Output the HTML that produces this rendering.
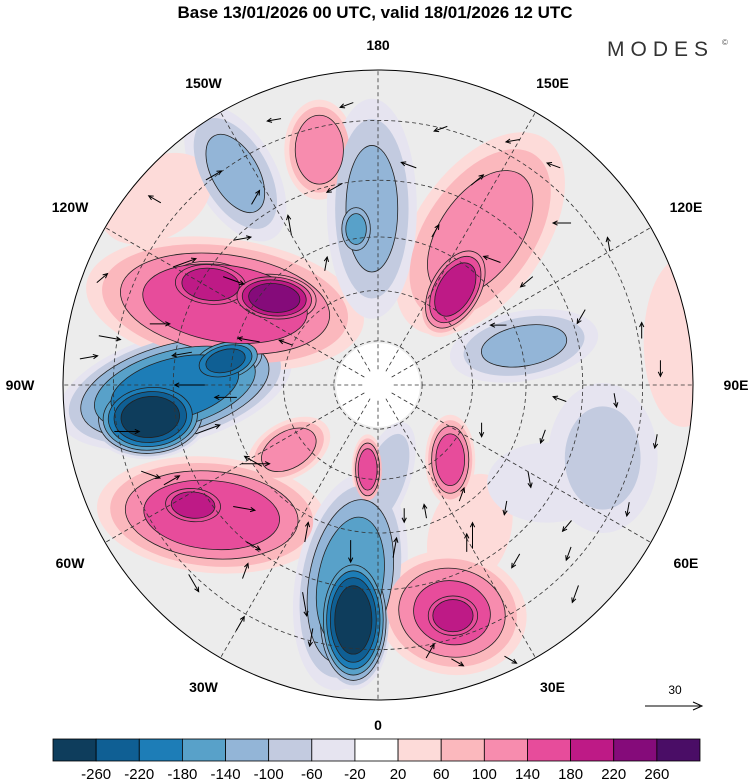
<!DOCTYPE html>
<html><head><meta charset="utf-8"><style>
body{margin:0;background:#fff;}
svg{display:block;font-family:"Liberation Sans",sans-serif;}
</style></head><body>
<svg id="s" width="750" height="783" viewBox="0 0 750 783">
<text x="375" y="18" text-anchor="middle" font-size="17" font-weight="bold">Base 13/01/2026 00 UTC, valid 18/01/2026 12 UTC</text>
<text x="607" y="56" font-size="21" fill="#333" letter-spacing="6">MODES</text>
<text x="722" y="45" font-size="8" fill="#555">©</text>
<defs><clipPath id="cc"><circle cx="378" cy="385" r="315"/></clipPath></defs>
<g id="map" clip-path="url(#cc)"></g>
<g id="grat"></g>
<g id="arrows"></g>
<circle cx="378" cy="385" r="315" fill="none" stroke="#000" stroke-width="1"/>
<g id="lonlabels"></g>
<g>
<text x="675" y="694" text-anchor="middle" font-size="12">30</text>
<line x1="645" y1="706" x2="700" y2="706" stroke="#000" stroke-width="1"/>
<path d="M693,702 L702,706 L693,710" fill="none" stroke="#000"/>
</g>
<g id="cbar"></g>
</svg>
<script>
const levels=[-260,-220,-180,-140,-100,-60,-20,20,60,100,140,180,220,260];
const colors=["#0e3d5c","#0f5f94","#1d7db7","#58a1c9","#93b5d7","#c3cbe0","#e6e4f0","#ffffff","#fddbd9","#fbb8bd","#f78cae","#e74c9b","#be1a86","#850b7a","#4a0d66"];
const lonLabels=["0","30E","60E","90E","120E","150E","180","150W","120W","90W","60W","30W"];
const lonDegs=[0,30,60,90,120,150,180,-150,-120,-90,-60,-30];
// field blobs: lon (deg), dist (fraction of radius), value, rx, ry (px), rotation (deg)
const blobLon=[-89,-82,-99,-118,-121,-130,-52,-57,-8,-6,4,18,18,146,141,-166,-178,-172,-146,105,98,72,44,-7,-54,32,-130,60];
const blobDist=[.645,.73,.49,.55,.62,.43,.67,.70,.63,.75,.30,.76,.77,.58,.39,.77,.56,.50,.81,.48,.98,.75,.33,.27,.35,.55,.92,.62];
const blobVal=[-210,-290,-230,170,220,250,170,210,-170,-290,-100,150,220,120,215,140,-110,-150,-110,-110,50,-70,165,170,130,50,50,-50];
const blobRx=[120,60,45,140,50,50,115,40,55,38,25,75,35,65,30,35,45,20,40,75,40,55,25,16,45,40,60,60];
const blobRy=[55,42,25,65,28,28,58,24,110,70,60,62,28,115,52,50,110,30,75,35,85,75,45,35,28,60,40,40];
const blobRot=[-15,-5,-15,8,5,5,5,5,10,0,20,10,0,35,30,0,0,0,-30,-10,0,0,0,0,-30,20,-30,0];
// wind arrows: lon, dist, direction (deg, screen), length px
const arLon=[-90,-80,-100,-120,-140,-60,-45,-30,-10,5,15,30,45,60,80,110,130,150,170,-170,-150,-130,-110,-70,-20,10,25,55,75,95,125,160,-160,-50,-95,-115,35,65,140,-175,-85,-75,-105,-125,-135,-65,-40,-25,-15,20,40,50,70,85,100,115,135,155,165,-155,-145,-110,-100,-55,-35,12,28,48,88,120];
const arDist=[.55,.85,.9,.75,.85,.5,.85,.9,.5,.55,.9,.6,.9,.55,.9,.7,.8,.9,.7,.65,.55,.9,.4,.8,.7,.88,.95,.75,.55,.9,.6,.5,.9,.6,.95,.3,.45,.88,.9,.9,.45,.6,.75,.6,.65,.75,.65,.55,.8,.45,.7,.8,.35,.6,.85,.45,.55,.7,.85,.4,.7,.95,.6,.45,.75,.4,.6,.55,.75,.85];
const arDir=[180,0,10,-20,-30,0,60,-60,90,-80,30,-90,110,80,100,120,180,170,200,150,-100,-150,190,20,80,-60,30,130,110,90,140,-60,170,10,-10,200,-70,100,200,160,180,-20,0,20,-10,-30,30,-80,100,-100,120,110,90,200,-90,180,200,-40,160,-80,-60,-40,170,210,-70,90,-90,100,80,-100];
const arLen=[30,25,22,24,18,28,20,16,22,20,14,26,18,16,14,16,18,14,16,18,20,14,22,20,24,16,14,14,14,16,16,14,14,22,18,14,14,14,14,14,22,26,20,22,18,18,16,20,18,14,16,14,14,14,16,16,18,16,14,14,16,14,20,20,16,14,18,14,14,14];

const NS="http://www.w3.org/2000/svg";
const CX=378,CY=385,R=315;
function px(lon,d){const a=lon*Math.PI/180;return [CX+d*R*Math.sin(a),CY+d*R*Math.cos(a)];}
function colorFor(v){let i=0;while(i<levels.length&&v>=levels[i])i++;return colors[i];}
function mk(tag,attrs,parent){const e=document.createElementNS(NS,tag);for(const k in attrs)e.setAttribute(k,attrs[k]);parent.appendChild(e);return e;}

const map=document.getElementById('map');
const bg=mk('rect',{x:0,y:0,width:750,height:783,fill:"#ececec"},map);


const groups=blobVal.map((v,i)=>{
  const [x,y]=px(blobLon[i],blobDist[i]);
  return {x,y,i};
});
for(let L=20;L<300;L+=40){
  groups.forEach(({x,y,i})=>{
    const v=blobVal[i],s=Math.sign(v),a=Math.abs(v);
    if(L>=a) return;
    const f=Math.sqrt(1-(L-20)/a*0.92);
    const e=mk('ellipse',{cx:0,cy:0,rx:blobRx[i]*f,ry:blobRy[i]*f,transform:`translate(${x},${y}) rotate(${blobRot[i]})`,fill:colorFor(s*(L+1)),stroke:L>=100?"#222":"none","stroke-width":L>=100?0.8:0},map);
    
    
  });
}
const pole=mk('circle',{cx:CX,cy:CY,r:42,fill:"#fff"},map);



const grat=document.getElementById('grat');
[.14,.3,.47,.65,.84].forEach(f=>{
  const c=mk('circle',{cx:CX,cy:CY,r:f*R,fill:"none",stroke:"#333","stroke-width":0.8,"stroke-dasharray":"4 3"},grat);
  
  
});
lonDegs.forEach(l=>{
  const [x1,y1]=px(l,.05),[x2,y2]=px(l,1);
  const ln=mk('line',{x1,y1,x2,y2,stroke:"#333","stroke-width":0.8,"stroke-dasharray":"4 3"},grat);
  
  
});

const ag=document.getElementById('arrows');
arLon.forEach((l,i)=>{
  const [x,y]=px(l,arDist[i]);const a=arDir[i]*Math.PI/180,L=arLen[i];
  const x2=x+L*Math.cos(a),y2=y+L*Math.sin(a);
  const g=mk('g',{},ag);
  
  
  mk('line',{x1:x,y1:y,x2,y2,stroke:"#000","stroke-width":1},g);
  const h=5;
  mk('path',{d:`M${x2-h*Math.cos(a-0.45)},${y2-h*Math.sin(a-0.45)} L${x2},${y2} L${x2-h*Math.cos(a+0.45)},${y2-h*Math.sin(a+0.45)}`,fill:"none",stroke:"#000","stroke-width":1},g);
});

const lg=document.getElementById('lonlabels');
lonDegs.forEach((l,i)=>{
  const a=l*Math.PI/180;
  const rr=340+18*Math.abs(Math.sin(a));
  const x=CX+rr*Math.sin(a),y=CY+rr*Math.cos(a);
  const t=mk('text',{x,y:y+5,"text-anchor":"middle","font-size":14,"font-weight":"bold"},lg);
  t.textContent=lonLabels[i];
  
  
});

const cb=document.getElementById('cbar');
const x0=53,x1=700,w=(x1-x0)/colors.length;
colors.forEach((c,i)=>{
  const r=mk('rect',{x:x0+i*w,y:739,width:w,height:22,fill:c,stroke:"#000","stroke-width":0.8},cb);
  
  
});
levels.forEach((v,i)=>{
  const t=mk('text',{x:x0+(i+1)*w,y:779,"text-anchor":"middle","font-size":15},cb);
  t.textContent=v;
  
  
});
</script>
</body></html>
